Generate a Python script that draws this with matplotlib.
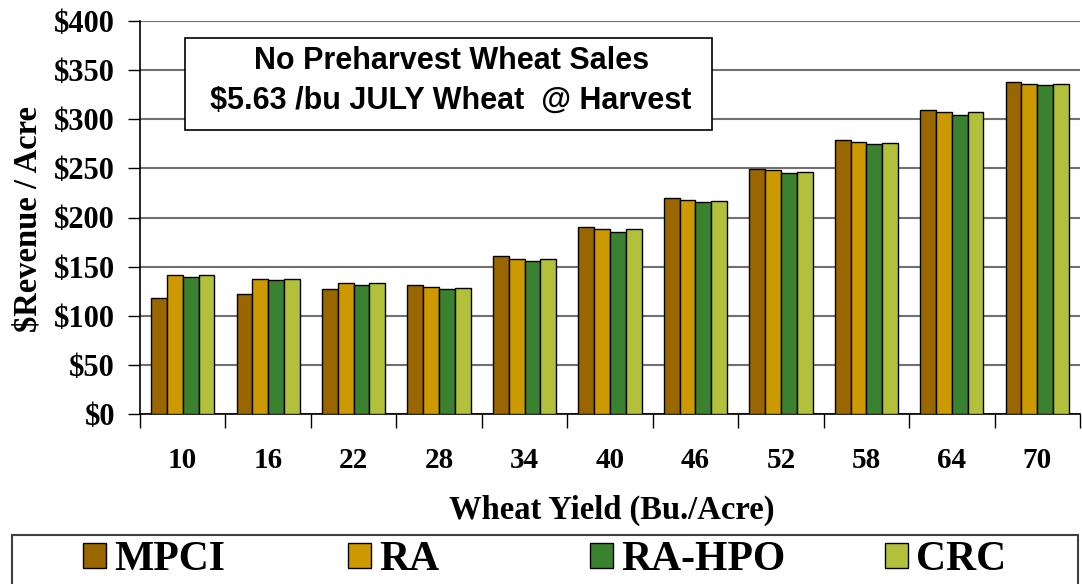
import numpy as np
import matplotlib.pyplot as plt
from matplotlib.patches import Patch, Rectangle

# wheat yield categories (bu/acre)
yields = ['10', '16', '22', '28', '34', '40', '46', '52', '58', '64', '70']

# revenue per acre for each insurance product
mpci = [118, 122, 127, 131, 161, 190, 220, 249, 279, 309, 338]
ra = [141, 137, 133, 129, 158, 188, 218, 248, 277, 307, 336]
ra_hpo = [139, 136, 131, 127, 156, 185, 216, 245, 275, 304, 335]
crc = [141, 137, 133, 128, 158, 188, 217, 246, 276, 307, 336]

series = [('MPCI', mpci, '#996600'),
          ('RA', ra, '#CC9900'),
          ('RA-HPO', ra_hpo, '#3B8230'),
          ('CRC', crc, '#B2C03C')]

serif = 'Liberation Serif'
sans = 'Liberation Sans'

fig = plt.figure(figsize=(10.82, 5.84), dpi=100)
ax = fig.add_axes([140/1082, 1-414/584, 940/1082, 393/584])

x = np.arange(len(yields))
w = 0.185
for i, (name, vals, col) in enumerate(series):
    ax.bar(x + (i - 1.5) * w, vals, width=w, color=col, edgecolor='black',
           linewidth=1, zorder=3, label=name)

ax.set_xlim(-0.5, len(yields) - 0.5)
ax.set_ylim(0, 400)
ax.set_yticks(np.arange(0, 401, 50))
ax.set_yticklabels(['$%d' % v for v in range(0, 401, 50)],
                   fontfamily=serif, fontweight='bold', fontsize=22)
ax.set_xticks(x)
ax.set_xticklabels(yields, fontfamily=serif, fontweight='bold', fontsize=21)
ax.set_xticks(np.arange(-0.5, len(yields)), minor=True)
ax.tick_params(axis='x', which='major', length=0, pad=24)
ax.tick_params(axis='x', which='minor', length=10, width=1, direction='out')
ax.tick_params(axis='y', length=9, width=1, pad=9)

ax.grid(axis='y', color='#707070', linewidth=1.5, zorder=0)
for s in ['top', 'right']:
    ax.spines[s].set_visible(False)
ax.spines['left'].set_linewidth(1.2)
ax.spines['bottom'].set_linewidth(1.2)

# title box
ax.add_patch(Rectangle((0.048, 0.722), 0.5606, 0.2335, transform=ax.transAxes,
                       facecolor='white', edgecolor='black', linewidth=1.2, zorder=5))
ax.text(0.331, 0.898, 'No Preharvest Wheat Sales', transform=ax.transAxes,
        ha='center', va='center', fontfamily=sans, fontweight='bold',
        fontsize=22, zorder=6)
ax.text(0.331, 0.796, '$5.63 /bu JULY Wheat  @ Harvest', transform=ax.transAxes,
        ha='center', va='center', fontfamily=sans, fontweight='bold',
        fontsize=22, zorder=6)

fig.text(28/1082, 1-219/584, '$Revenue / Acre', rotation=90, ha='center',
         va='center', fontfamily=serif, fontweight='bold', fontsize=23.5)
fig.text(612/1082, 1-510/584, 'Wheat Yield (Bu./Acre)', ha='center',
         va='center', fontfamily=serif, fontweight='bold', fontsize=23.5)

# legend frame and entries
fig.patches.append(Rectangle((12/1082, -0.05), 1066/1082, 0.05 + 49/584,
                             transform=fig.transFigure, facecolor='white',
                             edgecolor='#404040', linewidth=1.5))
leg_x = [83, 348, 590, 885]
for (name, _, col), lx in zip(series, leg_x):
    h = Patch(facecolor=col, edgecolor='black', linewidth=1)
    fig.legend([h], [name], loc='center left',
               bbox_to_anchor=(lx/1082, 1-560/584), frameon=False,
               prop={'family': serif, 'weight': 'bold', 'size': 30},
               handlelength=0.55, handleheight=0.55, handletextpad=0.2,
               borderpad=0, borderaxespad=0)

fig.savefig('out.png', dpi=100)
